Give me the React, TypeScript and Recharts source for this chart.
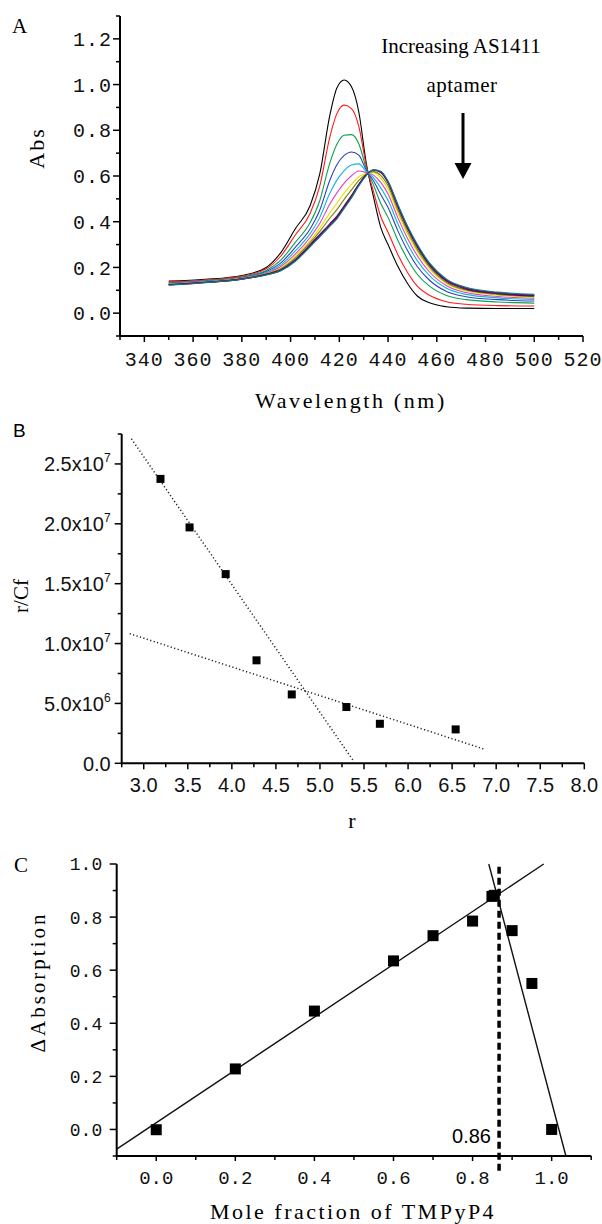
import React from "react";
import {
  LineChart,
  Line,
  XAxis,
  YAxis,
  ComposedChart,
  Scatter,
  ReferenceLine,
} from "recharts";

// ---------- Panel A: spectra during AS1411 titration ----------
const wavelengths = [
  350, 365, 380, 390, 396, 402, 408, 412, 416, 419, 422, 425, 428, 431, 434,
  437, 440, 444, 448, 452, 457, 464, 472, 485, 500,
];

const absBlack = [0.14, 0.148, 0.165, 0.2, 0.265, 0.37, 0.47, 0.61, 0.86, 0.985, 1.02, 0.99, 0.88, 0.66, 0.51, 0.375, 0.3, 0.205, 0.13, 0.075, 0.045, 0.028, 0.022, 0.02, 0.02];
const absRed = [0.137, 0.145, 0.162, 0.194, 0.25, 0.343, 0.436, 0.557, 0.766, 0.873, 0.91, 0.895, 0.817, 0.649, 0.533, 0.423, 0.354, 0.257, 0.178, 0.118, 0.078, 0.05, 0.039, 0.033, 0.031];
const absGreen = [0.133, 0.142, 0.158, 0.187, 0.232, 0.311, 0.395, 0.493, 0.653, 0.739, 0.778, 0.781, 0.741, 0.636, 0.561, 0.481, 0.419, 0.319, 0.236, 0.17, 0.118, 0.077, 0.059, 0.049, 0.044];
const absBlue = [0.131, 0.14, 0.156, 0.182, 0.22, 0.289, 0.368, 0.451, 0.578, 0.649, 0.69, 0.705, 0.691, 0.627, 0.579, 0.519, 0.462, 0.361, 0.274, 0.204, 0.144, 0.095, 0.072, 0.059, 0.053];
const absCyan = [0.129, 0.139, 0.154, 0.178, 0.211, 0.273, 0.348, 0.419, 0.522, 0.582, 0.624, 0.648, 0.653, 0.62, 0.593, 0.548, 0.494, 0.392, 0.303, 0.23, 0.164, 0.109, 0.082, 0.067, 0.06];
const absMagenta = [0.128, 0.137, 0.153, 0.175, 0.204, 0.259, 0.331, 0.393, 0.475, 0.526, 0.569, 0.601, 0.622, 0.615, 0.604, 0.572, 0.521, 0.418, 0.327, 0.251, 0.18, 0.12, 0.09, 0.073, 0.065];
const absYellow = [0.127, 0.136, 0.152, 0.173, 0.198, 0.249, 0.317, 0.372, 0.437, 0.481, 0.525, 0.563, 0.597, 0.611, 0.614, 0.591, 0.543, 0.439, 0.346, 0.269, 0.194, 0.129, 0.097, 0.079, 0.07];
const absOlive = [0.126, 0.136, 0.151, 0.172, 0.194, 0.242, 0.309, 0.358, 0.414, 0.453, 0.498, 0.539, 0.581, 0.608, 0.619, 0.603, 0.557, 0.452, 0.358, 0.279, 0.202, 0.134, 0.101, 0.082, 0.072];
const absNavy = [0.125, 0.135, 0.15, 0.17, 0.19, 0.235, 0.3, 0.345, 0.39, 0.425, 0.47, 0.515, 0.565, 0.605, 0.625, 0.615, 0.57, 0.465, 0.37, 0.29, 0.21, 0.14, 0.105, 0.085, 0.075];
const absWine = [0.123, 0.134, 0.149, 0.169, 0.188, 0.232, 0.297, 0.341, 0.386, 0.42, 0.466, 0.512, 0.563, 0.604, 0.626, 0.617, 0.573, 0.469, 0.374, 0.294, 0.213, 0.143, 0.108, 0.087, 0.077];
const absPurple = [0.124, 0.134, 0.149, 0.168, 0.187, 0.23, 0.294, 0.338, 0.382, 0.416, 0.462, 0.508, 0.56, 0.603, 0.626, 0.619, 0.575, 0.472, 0.377, 0.297, 0.216, 0.145, 0.11, 0.089, 0.079];
const absTeal = [0.122, 0.133, 0.148, 0.167, 0.185, 0.227, 0.29, 0.334, 0.378, 0.412, 0.458, 0.504, 0.557, 0.601, 0.627, 0.621, 0.578, 0.476, 0.381, 0.301, 0.22, 0.149, 0.113, 0.092, 0.082];

const spectra = [
  { key: "s0", color: "#000000", values: absBlack },
  { key: "s1", color: "#ff1a1a", values: absRed },
  { key: "s2", color: "#10a050", values: absGreen },
  { key: "s3", color: "#2a44c0", values: absBlue },
  { key: "s4", color: "#12b4e0", values: absCyan },
  { key: "s5", color: "#e040c8", values: absMagenta },
  { key: "s6", color: "#e6e000", values: absYellow },
  { key: "s7", color: "#808000", values: absOlive },
  { key: "s8", color: "#1c1c80", values: absNavy },
  { key: "s9", color: "#800028", values: absWine },
  { key: "s10", color: "#800080", values: absPurple },
  { key: "s11", color: "#008080", values: absTeal },
];

const spectraRows = wavelengths.map((wl, i) => {
  const row: Record<string, number> = { wl };
  spectra.forEach((s) => (row[s.key] = s.values[i]));
  return row;
});

const wlTicks = [330, 340, 350, 360, 370, 380, 390, 400, 410, 420, 430, 440, 450, 460, 470, 480, 490, 500, 510, 520];
const wlLabels = [340, 360, 380, 400, 420, 440, 460, 480, 500, 520];
const absTicks = [-0.1, 0, 0.1, 0.2, 0.3, 0.4, 0.5, 0.6, 0.7, 0.8, 0.9, 1.0, 1.1, 1.2, 1.3];
const absLabels = [0, 0.2, 0.4, 0.6, 0.8, 1.0, 1.2];

// ---------- Panel B: Scatchard plot ----------
const scatchardPoints = [
  { x: 3.19, y: 2.375e7 },
  { x: 3.52, y: 1.97e7 },
  { x: 3.93, y: 1.58e7 },
  { x: 4.28, y: 0.86e7 },
  { x: 4.68, y: 0.575e7 },
  { x: 5.3, y: 0.47e7 },
  { x: 5.68, y: 0.33e7 },
  { x: 6.54, y: 0.283e7 },
];
const scatchardFitSteep = [
  { x: 2.86, y: 2.71e7 },
  { x: 5.38, y: 0.02e7 },
];
const scatchardFitShallow = [
  { x: 2.84, y: 1.083e7 },
  { x: 6.86, y: 0.119e7 },
];
const rTicks = [2.75, 3.0, 3.25, 3.5, 3.75, 4.0, 4.25, 4.5, 4.75, 5.0, 5.25, 5.5, 5.75, 6.0, 6.25, 6.5, 6.75, 7.0, 7.25, 7.5, 7.75, 8.0];
const rLabels = [3.0, 3.5, 4.0, 4.5, 5.0, 5.5, 6.0, 6.5, 7.0, 7.5, 8.0];
const rcfTicks = [0, 2.5e6, 5e6, 7.5e6, 1e7, 1.25e7, 1.5e7, 1.75e7, 2e7, 2.25e7, 2.5e7, 2.75e7];
const rcfLabels = [0, 5e6, 1e7, 1.5e7, 2e7, 2.5e7];

// ---------- Panel C: Job plot ----------
const jobPoints = [
  { x: 0.0, y: -0.001 },
  { x: 0.2, y: 0.228 },
  { x: 0.4, y: 0.446 },
  { x: 0.6, y: 0.635 },
  { x: 0.7, y: 0.73 },
  { x: 0.8, y: 0.785 },
  { x: 0.849, y: 0.878 },
  { x: 0.855, y: 0.882 },
  { x: 0.9, y: 0.749 },
  { x: 0.95, y: 0.55 },
  { x: 1.0, y: 0.0 },
];
const jobFitRising = [
  { x: -0.1, y: -0.074 },
  { x: 0.98, y: 1.0 },
];
const jobFitFalling = [
  { x: 0.841, y: 1.0 },
  { x: 1.036, y: -0.1 },
];
const jobBreak = 0.867;
const moleTicks = [-0.1, 0, 0.1, 0.2, 0.3, 0.4, 0.5, 0.6, 0.7, 0.8, 0.9, 1.0, 1.1];
const moleLabels = [0, 0.2, 0.4, 0.6, 0.8, 1.0];
const dAbsTicks = [-0.1, 0, 0.1, 0.2, 0.3, 0.4, 0.5, 0.6, 0.7, 0.8, 0.9, 1.0];
const dAbsLabels = [0, 0.2, 0.4, 0.6, 0.8, 1.0];

// ---------- tick helpers ----------
const axisStyle = { stroke: "#000", strokeWidth: 2 };
const SERIF = "'Liberation Serif', 'Times New Roman', serif";
const SANS = "'Liberation Sans', Arial, sans-serif";
const MONO = "'Liberation Mono', 'DejaVu Sans Mono', monospace";

type TickOpts = {
  labels: number[];
  major: number;
  minor: number;
  offset: number;
  font: string;
  size: number;
  spacing?: number;
  fmt: (v: number) => React.ReactNode;
};

const isLabel = (v: number, labels: number[]) =>
  labels.some((m) => Math.abs(m - v) <= Math.abs(m) * 1e-9 + 1e-9);

const bottomTick = (o: TickOpts) => (props: any) => {
  const { x, y, payload } = props;
  const major = isLabel(payload.value, o.labels);
  return (
    <g>
      <line x1={x} x2={x} y1={y} y2={y + (major ? o.major : o.minor)} stroke="#000" strokeWidth={1.5} />
      {major && (
        <text x={x} y={y + o.offset} textAnchor="middle" fontFamily={o.font} fontSize={o.size} letterSpacing={o.spacing} fill="#111">
          {o.fmt(payload.value)}
        </text>
      )}
    </g>
  );
};

const leftTick = (o: TickOpts) => (props: any) => {
  const { x, y, payload } = props;
  const major = isLabel(payload.value, o.labels);
  return (
    <g>
      <line x1={x - (major ? o.major : o.minor)} x2={x} y1={y} y2={y} stroke="#000" strokeWidth={1.5} />
      {major && (
        <text x={x - o.offset} y={y + o.size * 0.36} textAnchor="end" fontFamily={o.font} fontSize={o.size} letterSpacing={o.spacing} fill="#111">
          {o.fmt(payload.value)}
        </text>
      )}
    </g>
  );
};

const sciLabel = (v: number) => {
  if (v === 0) return "0.0";
  const exp = Math.floor(Math.log10(v) + 1e-9);
  const mant = v / Math.pow(10, exp);
  return (
    <>
      {mant.toFixed(1)}x10
      <tspan dy={-9} fontSize={12}>
        {exp}
      </tspan>
    </>
  );
};

const square = (size: number) => (props: any) => (
  <rect x={props.cx - size / 2} y={props.cy - size / 2} width={size} height={size} fill="#000" />
);

const App: React.FC = () => {
  return (
    <div style={{ position: "absolute", left: 0, top: 0, width: 602, height: 1224, background: "#fff" }}>
      {/* A */}
      <div style={{ position: "absolute", left: 0, top: 0 }}>
        <LineChart width={602} height={420} data={spectraRows} margin={{ top: 16, right: 19, bottom: 54, left: 60 }}>
          <XAxis
            dataKey="wl"
            type="number"
            domain={[330, 520]}
            ticks={wlTicks}
            interval={0}
            height={30}
            tickSize={0}
            tickMargin={0}
            tickLine={false}
            axisLine={axisStyle}
            tick={bottomTick({ labels: wlLabels, major: 6, minor: 4, offset: 30, font: MONO, size: 20, spacing: 1, fmt: (v) => String(v) })}
          />
          <YAxis
            type="number"
            domain={[-0.1, 1.3]}
            ticks={absTicks}
            interval={0}
            width={60}
            tickSize={0}
            tickMargin={0}
            tickLine={false}
            axisLine={axisStyle}
            tick={leftTick({ labels: absLabels, major: 7, minor: 4, offset: 8, font: MONO, size: 20, spacing: 1, fmt: (v) => v.toFixed(1) })}
          />
          {spectra.map((s) => (
            <Line
              key={s.key}
              dataKey={s.key}
              type="monotone"
              stroke={s.color}
              strokeWidth={1.1}
              dot={false}
              isAnimationActive={false}
            />
          ))}
        </LineChart>
      </div>

      {/* B */}
      <div style={{ position: "absolute", left: 0, top: 400 }}>
        <ComposedChart width={602} height={440} margin={{ top: 34, right: 17.7, bottom: 46.7, left: 61.7 }}>
          <XAxis
            dataKey="x"
            type="number"
            domain={[2.75, 8]}
            ticks={rTicks}
            interval={0}
            height={30}
            tickSize={0}
            tickMargin={0}
            tickLine={false}
            axisLine={axisStyle}
            tick={bottomTick({ labels: rLabels, major: 6, minor: 4, offset: 28.5, font: SANS, size: 20, fmt: (v) => v.toFixed(1) })}
          />
          <YAxis
            dataKey="y"
            type="number"
            domain={[0, 2.75e7]}
            ticks={rcfTicks}
            interval={0}
            width={60}
            tickSize={0}
            tickMargin={0}
            tickLine={false}
            axisLine={axisStyle}
            tick={leftTick({ labels: rcfLabels, major: 7, minor: 4, offset: 11, font: SANS, size: 20, fmt: sciLabel })}
          />
          <Line data={scatchardFitSteep} dataKey="y" type="linear" stroke="#222" strokeWidth={1.5} strokeDasharray="1.2 2.4" dot={false} isAnimationActive={false} />
          <Line data={scatchardFitShallow} dataKey="y" type="linear" stroke="#222" strokeWidth={1.5} strokeDasharray="1.2 2.4" dot={false} isAnimationActive={false} />
          <Scatter data={scatchardPoints} shape={square(8)} isAnimationActive={false} />
        </ComposedChart>
      </div>

      {/* C */}
      <div style={{ position: "absolute", left: 0, top: 830 }}>
        <ComposedChart width={602} height={394} margin={{ top: 34, right: 10.8, bottom: 38, left: 56.7 }}>
          <XAxis
            dataKey="x"
            type="number"
            domain={[-0.1, 1.1]}
            ticks={moleTicks}
            interval={0}
            height={30}
            tickSize={0}
            tickMargin={0}
            tickLine={false}
            axisLine={axisStyle}
            tick={bottomTick({ labels: moleLabels, major: 5, minor: 4, offset: 27.5, font: MONO, size: 19, fmt: (v) => v.toFixed(1) })}
          />
          <YAxis
            dataKey="y"
            type="number"
            domain={[-0.1, 1.0]}
            ticks={dAbsTicks}
            interval={0}
            width={60}
            tickSize={0}
            tickMargin={0}
            tickLine={false}
            axisLine={axisStyle}
            tick={leftTick({ labels: dAbsLabels, major: 7, minor: 4, offset: 14.5, font: MONO, size: 18, fmt: (v) => v.toFixed(1) })}
          />
          <Line data={jobFitRising} dataKey="y" type="linear" stroke="#111" strokeWidth={1.4} dot={false} isAnimationActive={false} />
          <Line data={jobFitFalling} dataKey="y" type="linear" stroke="#111" strokeWidth={1.4} dot={false} isAnimationActive={false} />
          <ReferenceLine
            segment={[
              { x: jobBreak, y: 0.99 },
              { x: jobBreak, y: -0.156 },
            ]}
            ifOverflow="visible"
            stroke="#000"
            strokeWidth={3.5}
            strokeDasharray="7 4"
          />
          <Scatter data={jobPoints} shape={square(11)} isAnimationActive={false} />
        </ComposedChart>
      </div>

      {/* labels and annotations */}
      <svg width={602} height={1224} style={{ position: "absolute", left: 0, top: 0, pointerEvents: "none" }}>
        <text x={12} y={33} fontFamily={SERIF} fontSize={21}>A</text>
        <text x={461} y={53} textAnchor="middle" fontFamily={SERIF} fontSize={21}>Increasing AS1411</text>
        <text x={462} y={92} textAnchor="middle" fontFamily={SERIF} fontSize={21} letterSpacing={0.5}>aptamer</text>
        <line x1={463} x2={463} y1={113} y2={166} stroke="#000" strokeWidth={3} />
        <polygon points="454.5,163 471.5,163 463,179" fill="#000" />
        <text x={44} y={148} transform="rotate(-90 44 148)" textAnchor="middle" fontFamily={SERIF} fontSize={22} letterSpacing={2}>Abs</text>
        <text x={351} y={408} textAnchor="middle" fontFamily={SERIF} fontSize={22} letterSpacing={2.6}>Wavelength (nm)</text>

        <text x={13} y={437} fontFamily={SANS} fontSize={19}>B</text>
        <text x={28} y={596} transform="rotate(-90 28 596)" textAnchor="middle" fontFamily={SERIF} fontSize={21}>r/Cf</text>
        <text x={352} y={828} textAnchor="middle" fontFamily={SERIF} fontSize={22}>r</text>

        <text x={14} y={872} fontFamily={SERIF} fontSize={21}>C</text>
        <text x={45} y={982} transform="rotate(-90 45 982)" textAnchor="middle" fontFamily={SERIF} fontSize={21} letterSpacing={3}>ΔAbsorption</text>
        <text x={353} y={1219} textAnchor="middle" fontFamily={SERIF} fontSize={22} letterSpacing={2.5}>Mole fraction of TMPyP4</text>
        <text x={491} y={1143} textAnchor="end" fontFamily={SANS} fontSize={20}>0.86</text>
      </svg>
    </div>
  );
};

export default App;
